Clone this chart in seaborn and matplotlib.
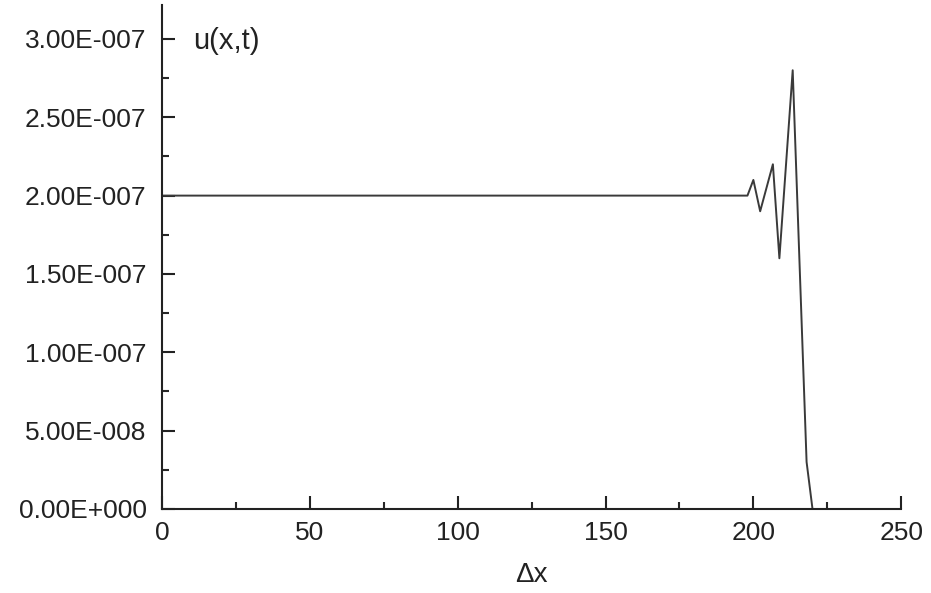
import matplotlib
matplotlib.use("Agg")
import matplotlib.pyplot as plt
import seaborn as sns
import pandas as pd
from matplotlib.ticker import MultipleLocator, FixedLocator

# Data
dx = [0, 198, 200, 202.3, 206.6, 208.8, 213.3, 218, 220]
u = [2.0e-7, 2.0e-7, 2.1e-7, 1.9e-7, 2.2e-7, 1.6e-7, 2.8e-7, 3.0e-8, 0.0]

y_ticks = [0.0, 5e-8, 1e-7, 1.5e-7, 2e-7, 2.5e-7, 3e-7]
y_tick_labels = ["0.00E+000", "5.00E-008", "1.00E-007", "1.50E-007",
                 "2.00E-007", "2.50E-007", "3.00E-007"]
x_ticks = [0, 50, 100, 150, 200, 250]
x_tick_labels = ["0", "50", "100", "150", "200", "250"]

df = pd.DataFrame({"dx": dx, "u": u})

sns.set_style("ticks")
plt.rcParams["font.family"] = ["Liberation Sans", "DejaVu Sans"]

fig = plt.figure(figsize=(9.31, 5.93), dpi=100)
ax = fig.add_axes([0.174, 0.1417, 0.794, 0.85])

sns.lineplot(data=df, x="dx", y="u", ax=ax, color="#3a3a3a", linewidth=1.4,
             estimator=None, sort=False)

ax.set_xlim(0, 250)
ax.set_ylim(0, 3.217e-7)
ax.xaxis.set_major_locator(FixedLocator(x_ticks))
ax.set_xticklabels(x_tick_labels)
ax.xaxis.set_minor_locator(MultipleLocator(25))
ax.yaxis.set_major_locator(FixedLocator(y_ticks))
ax.set_yticklabels(y_tick_labels)
ax.yaxis.set_minor_locator(MultipleLocator(2.5e-8))

ax.tick_params(which="major", direction="in", length=9.5, width=1.5,
               labelsize=19, colors="#222222")
ax.tick_params(which="minor", direction="in", length=5, width=1.5)
ax.tick_params(axis="y", which="major", pad=11)
ax.tick_params(axis="x", which="major", pad=9)

for s in ["top", "right"]:
    ax.spines[s].set_visible(False)
for s in ["left", "bottom"]:
    ax.spines[s].set_linewidth(1.5)
    ax.spines[s].set_color("#222222")

ax.set_xlabel("Δx", fontsize=20, color="#222222", labelpad=12)
ax.set_ylabel("")
ax.text(0.042, 0.928, "u(x,t)", transform=ax.transAxes, fontsize=21,
        color="#222222", va="center", ha="left")

fig.savefig("out.png", dpi=100)
